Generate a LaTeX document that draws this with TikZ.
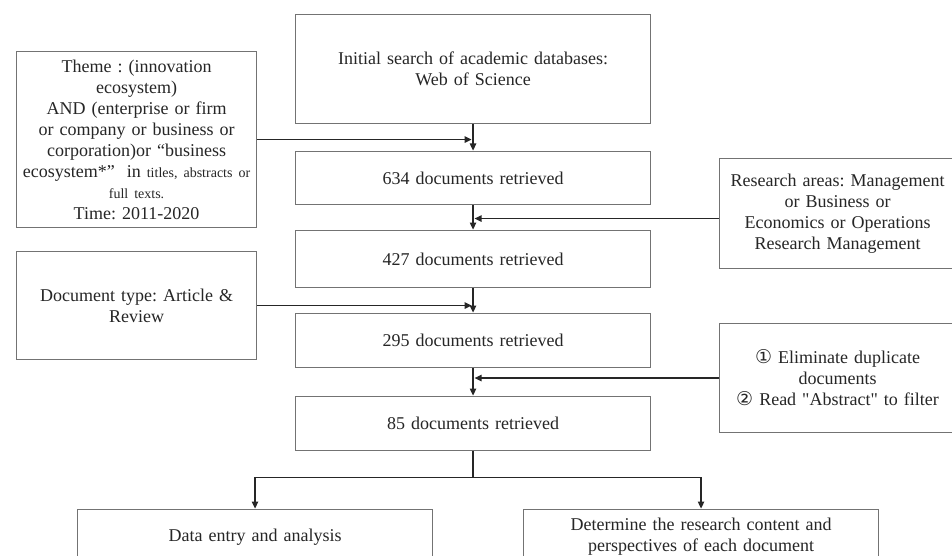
\documentclass[tikz,border=0pt]{standalone}
\usepackage{fontspec}
\setmainfont{Liberation Serif}[Ligatures=TeXOff]
\newfontfamily\circfont{DejaVu Sans}
\usetikzlibrary{arrows.meta}

\begin{document}
\frenchspacing
\begin{tikzpicture}[x=1pt,y=-1pt,
  box/.style={draw=black!55, line width=1.1pt, fill=white, anchor=north west,
    inner sep=2pt, align=center, text=black!85,
    font=\fontsize{18}{21}\selectfont},
  cbox/.style={box, minimum width=355pt, text width=349pt},
  sbox/.style={box, minimum width=240pt, text width=234pt},
  rbox/.style={box, minimum width=236pt, text width=230pt},
  link/.style={draw=black!85, line width=1.2pt},
  arr/.style={link, -{Triangle[length=7pt,width=6.5pt]}, shorten >=0.5pt}
]
% page frame
\useasboundingbox (0,0) rectangle (952,556);
\fill[white] (0,0) rectangle (952,556);
\clip (0,0) rectangle (952,556);

% main column
\node[cbox, minimum height=109pt] (init) at (295,14)
  {Initial search of academic databases:\\Web of Science};
\node[cbox, minimum height=53pt] (r634) at (295,151) {634 documents retrieved};
\node[cbox, minimum height=57pt] (r427) at (295,230) {427 documents retrieved};
\node[cbox, minimum height=54pt] (r295) at (295,313) {295 documents retrieved};
\node[cbox, minimum height=54pt] (r85)  at (295,396) {85 documents retrieved};

% filters on the left
\node[sbox, minimum height=176pt] (theme) at (16,51)
  {Theme : (innovation\\
   ecosystem)\\
   AND (enterprise or firm\\
   or company or business or\\
   corporation)or “business\\
   ecosystem*”\ \ in {\fontsize{14}{21}\selectfont titles, abstracts or}\\
   {\fontsize{14}{21}\selectfont full texts.}\\
   Time: 2011-2020};
\node[sbox, minimum height=108pt] (doctype) at (16,251)
  {Document type: Article \&\\Review};

% filters on the right
\node[rbox, minimum height=110pt] (area) at (719,158)
  {Research areas: Management\\
   or Business or\\
   Economics or Operations\\
   Research Management};
\node[rbox, minimum height=109pt] (elim) at (719,323)
  {{\circfont\fontsize{19}{21}\selectfont ①} Eliminate duplicate\\
   documents\\
   {\circfont\fontsize{19}{21}\selectfont ②} Read "Abstract" to filter};

% outcomes
\node[cbox, minimum height=55pt] (entry) at (77,509) {Data entry and analysis};
\node[cbox, minimum height=55pt] (persp) at (523,509)
  {Determine the research content and\\perspectives of each document};

% vertical flow
\draw[arr] (init.south) -- (r634.north);
\draw[arr] (r634.south) -- (r427.north);
\draw[arr] (r427.south) -- (r295.north);
\draw[arr] (r295.south) -- (r85.north);

% side inputs
\draw[arr, shorten >=1.5pt] (theme.east) -- (theme.east -| init.south);
\draw[arr, shorten >=1.5pt] ([yshift=-5pt]area.west) -- ([yshift=-5pt]area.west -| r634.south);
\draw[arr, shorten >=1.5pt] (doctype.east) -- (doctype.east -| r427.south);
\draw[arr, shorten >=1.5pt] (elim.west) -- (elim.west -| r295.south);

% split into the two outcomes
\draw[link] (r85.south) -- ++(0,26) coordinate (split);
\draw[arr] (split) -| (entry.north);
\draw[arr] (split) -| (persp.north);
\end{tikzpicture}
\end{document}
